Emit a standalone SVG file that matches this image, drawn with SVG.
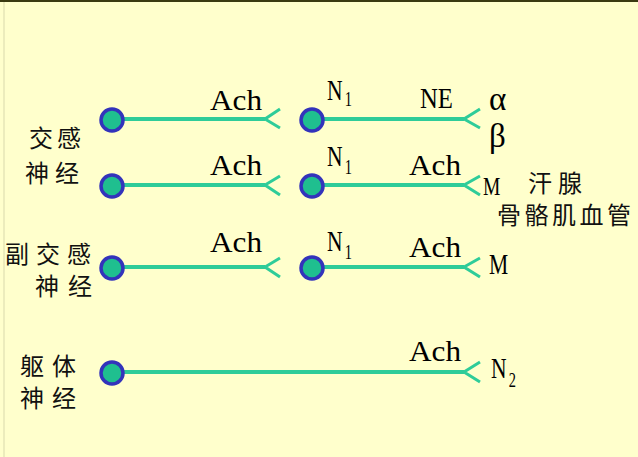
<svg xmlns="http://www.w3.org/2000/svg" width="638" height="457" viewBox="0 0 638 457">
<style>
.ax{stroke:#2ECC99;stroke-width:4;fill:none;stroke-linecap:butt}
.fk{stroke:#2ECC99;stroke-width:3;fill:none;stroke-linejoin:miter}
.nd{fill:#1FBF8F;stroke:#3333BB;stroke-width:3.5}
.lt{font-family:"Liberation Serif","DejaVu Serif",serif;font-size:29px;fill:#000}
.nn{font-family:"Liberation Serif","DejaVu Serif",serif;font-size:30px;fill:#000}
.sb{font-size:20px}
.cj{font-family:"Noto Sans CJK SC","Noto Sans CJK JP",serif;font-size:24px;fill:#111}
.gk{font-family:"Liberation Serif","DejaVu Serif",serif;font-size:33px;fill:#000}
</style>
<rect x="0" y="0" width="638" height="457" fill="#FFFFCC"/>
<rect x="0" y="0" width="638" height="2" fill="#3A3A10"/>
<rect x="3" y="2" width="2" height="455" fill="#ECECBC"/>

<g id="connectors">
  <line class="ax" x1="112" y1="119" x2="265" y2="119"/>
  <polyline class="fk" points="280,109 265,119 280,128"/>
  <line class="ax" x1="312" y1="119" x2="464" y2="119"/>
  <polyline class="fk" points="480,109 464,119 480,128"/>

  <line class="ax" x1="112" y1="185" x2="265" y2="185"/>
  <polyline class="fk" points="280,176 265,185 280,195"/>
  <line class="ax" x1="312" y1="185" x2="464" y2="185"/>
  <polyline class="fk" points="480,176 464,185 480,195"/>

  <line class="ax" x1="112" y1="267" x2="265" y2="267"/>
  <polyline class="fk" points="280,258 265,267 280,277"/>
  <line class="ax" x1="312" y1="267" x2="464" y2="267"/>
  <polyline class="fk" points="480,258 464,267 480,277"/>

  <line class="ax" x1="112" y1="372" x2="464" y2="372"/>
  <polyline class="fk" points="480,362 464,372 480,382"/>
</g>

<g id="sympathetic">
  <text class="cj" x="29" y="147" letter-spacing="4">交感</text>
  <text class="cj" x="25" y="182" letter-spacing="6">神经</text>
  <circle id="n1a" class="nd" cx="112" cy="120" r="11"/>
  <circle id="n1b" class="nd" cx="312" cy="120" r="11"/>
  <text class="lt" x="210" y="110" textLength="52" lengthAdjust="spacingAndGlyphs">Ach</text>
  <text class="nn" transform="translate(327,100) scale(0.72,1)">N<tspan class="sb" dx="3" dy="6">1</tspan></text>
  <text class="lt" x="420" y="108" textLength="33" lengthAdjust="spacingAndGlyphs">NE</text>
  <text class="gk" x="489" y="110">α</text>
  <text class="gk" x="489" y="147">β</text>
</g>

<g id="sympathetic2">
  <circle id="n2a" class="nd" cx="112" cy="186" r="11"/>
  <circle id="n2b" class="nd" cx="312" cy="186" r="11"/>
  <text class="lt" x="210" y="175" textLength="52" lengthAdjust="spacingAndGlyphs">Ach</text>
  <text class="nn" transform="translate(327,166) scale(0.72,1)">N<tspan class="sb" dx="3" dy="8">1</tspan></text>
  <text class="lt" x="409" y="175" textLength="52" lengthAdjust="spacingAndGlyphs">Ach</text>
  <text class="nn" transform="translate(483,195) scale(0.75,1)" style="font-size:26px">M</text>
  <text class="cj" x="528" y="192" letter-spacing="6">汗腺</text>
  <text class="cj" x="497" y="224" letter-spacing="3.5">骨骼肌血管</text>
</g>

<g id="parasympathetic">
  <text class="cj" x="5" y="263" letter-spacing="7">副交感</text>
  <text class="cj" x="35" y="295" letter-spacing="9">神经</text>
  <circle id="n3a" class="nd" cx="112" cy="268" r="11"/>
  <circle id="n3b" class="nd" cx="312" cy="268" r="11"/>
  <text class="lt" x="210" y="252" textLength="52" lengthAdjust="spacingAndGlyphs">Ach</text>
  <text class="nn" transform="translate(327,251) scale(0.72,1)">N<tspan class="sb" dx="3" dy="8">1</tspan></text>
  <text class="lt" x="409" y="257" textLength="52" lengthAdjust="spacingAndGlyphs">Ach</text>
  <text class="nn" transform="translate(489,274) scale(0.72,1)">M</text>
</g>

<g id="somatic">
  <text class="cj" x="20" y="375" letter-spacing="8">躯体</text>
  <text class="cj" x="20" y="407" letter-spacing="8">神经</text>
  <circle id="n4a" class="nd" cx="112" cy="373" r="11"/>
  <text class="lt" x="409" y="361" textLength="52" lengthAdjust="spacingAndGlyphs">Ach</text>
  <text class="nn" transform="translate(491,378) scale(0.72,1)">N<tspan class="sb" dx="3" dy="9">2</tspan></text>
</g>
</svg>
